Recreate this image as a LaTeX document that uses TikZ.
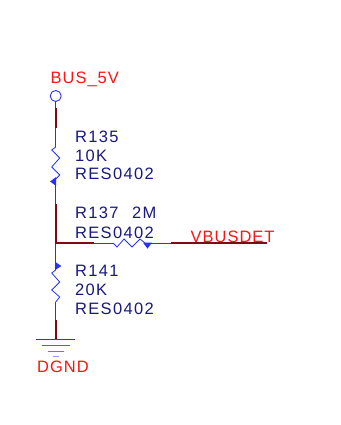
\documentclass[tikz,border=0pt]{standalone}
\usepackage{fontspec}
\setmainfont{Liberation Sans}
\newfontfamily\partfont[LetterSpace=8]{Liberation Sans}
\newfontfamily\netfont[LetterSpace=6]{Liberation Sans}
\usepackage{xcolor}
\usetikzlibrary{positioning, calc}
\definecolor{wireblue}{RGB}{40,50,245}
\definecolor{stubred}{RGB}{128,10,20}
\definecolor{partnavy}{RGB}{25,25,125}
\definecolor{netred}{RGB}{250,20,20}
\tikzset{
  wire/.style={wireblue,line width=0.9pt},
  stub/.style={stubred,line width=1.8pt},
  part/.style={anchor=base west,inner sep=0pt,text=partnavy,font=\fontsize{16.5}{16.5}\partfont},
  net/.style={anchor=base west,inner sep=0pt,text=netred,font=\fontsize{16.5}{16.5}\netfont},
}
\begin{document}
\begin{tikzpicture}[x=1pt,y=-1pt]
    \useasboundingbox (0,0) rectangle (340,425);

    \node[draw=wireblue,line width=0.9pt,circle,inner sep=0pt,minimum size=11pt] (pwr) at (55.7,96) {};
    \node[net] (buslabel) at (50.5,84) {BUS\_5V};

    \coordinate (j) at (55.7,243);
    \coordinate (r135a) at (55.7,147);
    \coordinate (r135b) at (55.7,179);
    \coordinate (r141a) at (55.7,270);
    \coordinate (r141b) at (55.7,302);
    \coordinate (r137a) at (113,243);
    \coordinate (r137b) at (145,243);
    \coordinate (netend) at (267,243);
    \coordinate (gnd) at (55.7,339);

    % wires
    \draw[wire] (pwr.south) -- (r135a);
    \draw[wire] (r135b) -- (j) -- (r141a);
    \draw[wire] (r141b) -- (gnd);
    \draw[wire] (j) -- (r137a);
    \draw[wire] (r137b) -- (netend);

    % resistors
    \draw[wire,line width=0.8pt] (r135a) -- ++(-4,3) -- ++(8,8) -- ++(-8,9) -- ++(8,8) -- (r135b);
    \draw[wire,line width=0.8pt] (r141a) -- ++(-4,3) -- ++(8,9) -- ++(-8,8) -- ++(8,7) -- (r141b);
    \draw[wire,line width=0.8pt] (r137a) -- ++(4,4) -- ++(7,-8) -- ++(8,8) -- ++(8,-8) -- (r137b);

    % pin marks
    \fill[wireblue] (r135b) ++(0.4,-2) -- ++(0,9) -- ++(-6,-4.5) -- cycle;
    \fill[wireblue] (r141a) ++(-0.4,-8) -- ++(0,8) -- ++(6,-4) -- cycle;
    \fill[wireblue] (r137b) ++(-2,-0.4) -- ++(9,0) -- ++(-4.5,6) -- cycle;

    % stubs
    \draw[stub] (55.7,108) -- (55.7,128);
    \draw[stub] (55.7,204) -- (j) -- (94,243);
    \draw[stub] (55.7,320) -- (gnd);
    \draw[stub] (171,243) -- (netend);

    % ground
    \draw[wire] (gnd) ++(-19.5,0) -- ++(39,0);
    \draw[wire,opacity=0.8] (gnd) ++(-14,6) -- ++(28,0);
    \draw[wire,opacity=0.7] (gnd) ++(-8,12) -- ++(16,0);
    \draw[wire,opacity=0.5] (gnd) ++(-3,17) -- ++(6,0);
    \node[net] (gndlabel) at (37,372) {DGND};

    \node[part] (r135name) at (75,142) {R135};
    \node[part] (r135val) at (75,161) {10K};
    \node[part] (r135pkg) at (75,179) {RES0402};

    \node[part] (r137name) at (75,218) {R137};
    \node[part] (r137val) at (132,218) {2M};
    \node[part] (r137pkg) at (75,238) {RES0402};

    \node[part] (r141name) at (75,276) {R141};
    \node[part] (r141val) at (75,295) {20K};
    \node[part] (r141pkg) at (75,314) {RES0402};

    \node[net] (netlabel) at (190.5,242) {VBUSDET};
\end{tikzpicture}
\end{document}
